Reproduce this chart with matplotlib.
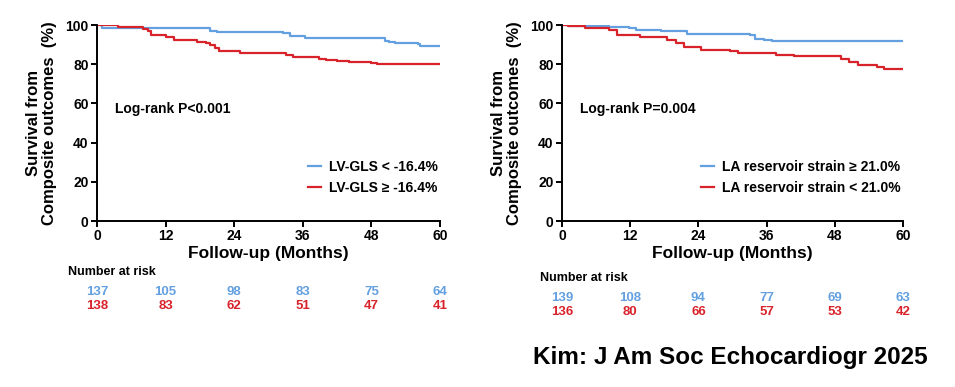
import matplotlib
matplotlib.use("Agg")
import matplotlib.pyplot as plt
from matplotlib.transforms import blended_transform_factory

plt.rcParams["font.family"] = ["Liberation Sans", "DejaVu Sans"]
plt.rcParams["font.weight"] = "bold"

BLUE = "#64a0e0"
RED = "#d8232a"

# Left panel: LV-GLS
lv_good_t = [0, 0.9, 19.7, 21.0, 32.5, 33.8, 36.4, 50.4, 51.0, 52.1, 56.2, 56.5, 60]
lv_good_s = [100, 98.3, 97.1, 96.4, 95.7, 94.4, 93.2, 92.0, 91.5, 91.0, 90.1, 89.4, 89.4]
lv_poor_t = [0, 3.6, 8.0, 9.0, 9.5, 12.0, 13.4, 17.5, 19.0, 19.7, 20.6, 21.3, 25.0,
             33.0, 34.2, 38.8, 40.0, 42.0, 44.0, 46.0, 48.0, 49.0, 60]
lv_poor_s = [100, 99.2, 98.0, 97.0, 94.7, 93.8, 92.4, 91.4, 90.6, 89.6, 88.3, 86.9, 85.6,
             84.6, 83.8, 82.8, 82.0, 81.7, 81.3, 80.9, 80.6, 80.3, 80.3]
lv_labels = ["LV-GLS < -16.4%", "LV-GLS \u2265 -16.4%"]
lv_pval = "Log-rank P<0.001"
lv_risk_good = [137, 105, 98, 83, 75, 64]
lv_risk_poor = [138, 83, 62, 51, 47, 41]

# Right panel: LA reservoir strain
la_good_t = [0, 1.0, 8.3, 11.7, 13.0, 17.5, 22.0, 33.0, 34.0, 35.5, 36.9, 60]
la_good_s = [100, 99.3, 98.8, 98.3, 97.4, 96.8, 95.6, 94.9, 93.1, 92.5, 91.8, 91.8]
la_poor_t = [0, 1.0, 4.0, 8.3, 9.6, 13.7, 18.5, 20.0, 21.4, 24.5, 29.5, 31.0, 37.7,
             40.8, 47.5, 49.0, 50.5, 52.0, 55.5, 56.7, 60]
la_poor_s = [100, 99.3, 98.3, 97.3, 94.9, 93.7, 92.5, 91.0, 88.7, 87.0, 86.5, 85.6, 84.9,
             84.0, 84.0, 82.5, 81.0, 79.6, 78.5, 77.3, 77.3]
la_labels = ["LA reservoir strain \u2265 21.0%", "LA reservoir strain < 21.0%"]
la_pval = "Log-rank P=0.004"
la_risk_good = [139, 108, 94, 77, 69, 63]
la_risk_poor = [136, 80, 66, 57, 53, 42]

risk_months = [0, 12, 24, 36, 48, 60]
ylabel = "Survival from\nComposite outcomes  (%)"


def draw_panel(fig, rect, good, poor, labels, pval, risk_good, risk_poor, risk_y):
    ax = fig.add_axes(rect)
    ax.step(good[0], good[1], where="post", color=BLUE, lw=1.6, label=labels[0])
    ax.step(poor[0], poor[1], where="post", color=RED, lw=1.6, label=labels[1])
    ax.set_xlim(0, 60)
    ax.set_ylim(0, 100)
    ax.set_xticks(risk_months)
    ax.set_yticks([0, 20, 40, 60, 80, 100])
    for side in ("top", "right"):
        ax.spines[side].set_visible(False)
    for side in ("left", "bottom"):
        ax.spines[side].set_linewidth(1.4)
    ax.tick_params(width=1.4, length=4, labelsize=10, pad=2)
    ax.set_xlabel("Follow-up (Months)", fontsize=12.5, fontweight="bold", labelpad=2)
    ax.set_ylabel(ylabel, fontsize=12, fontweight="bold", labelpad=6, linespacing=1.1)
    ax.text(0.052, 0.571, pval, transform=ax.transAxes, fontsize=10,
            fontweight="bold", va="center", ha="left")
    ax.legend(loc="lower right", bbox_to_anchor=(1.03, 0.07), frameon=False,
              handlelength=0.9, handletextpad=0.6, labelspacing=0.5,
              prop={"weight": "bold", "size": 10})

    trans = blended_transform_factory(ax.transData, fig.transFigure)
    fig.text(risk_y[0], risk_y[1], "Number at risk", fontsize=9, fontweight="bold",
             va="center", ha="left")
    for m, g, p in zip(risk_months, risk_good, risk_poor):
        ax.text(m, risk_y[2], str(g), transform=trans, color=BLUE, fontsize=9.5,
                fontweight="bold", ha="center", va="center")
        ax.text(m, risk_y[3], str(p), transform=trans, color=RED, fontsize=9.5,
                fontweight="bold", ha="center", va="center")
    return ax


fig = plt.figure(figsize=(9.55, 3.87), dpi=100)

draw_panel(fig, [0.1016, 0.4289, 0.3592, 0.5065], (lv_good_t, lv_good_s),
           (lv_poor_t, lv_poor_s), lv_labels, lv_pval, lv_risk_good, lv_risk_poor,
           (0.0712, 0.297, 0.245, 0.209))
draw_panel(fig, [0.5885, 0.4289, 0.3571, 0.5065], (la_good_t, la_good_s),
           (la_poor_t, la_poor_s), la_labels, la_pval, la_risk_good, la_risk_poor,
           (0.5654, 0.2817, 0.230, 0.194))

fig.text(0.558, 0.0775, "Kim: J Am Soc Echocardiogr 2025", fontsize=17.5,
         fontweight="bold", ha="left", va="center")

fig.savefig("out.png", dpi=100)
